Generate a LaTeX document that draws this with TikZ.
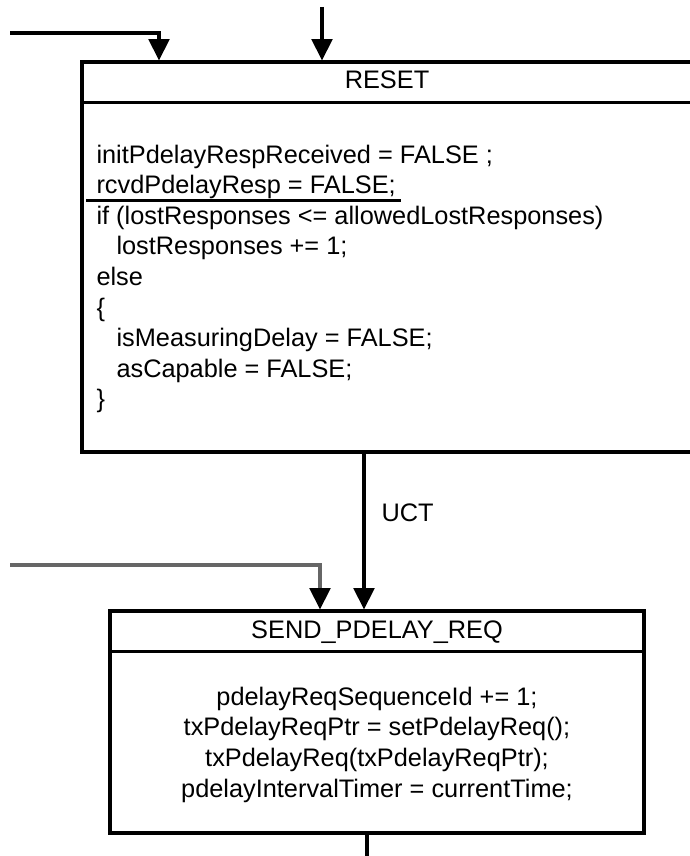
\documentclass[tikz,border=0pt]{standalone}
\usepackage{fontspec}
\setmainfont{Liberation Sans}
\usetikzlibrary{arrows.meta}
\begin{document}
\begin{tikzpicture}[x=0.75pt,y=-0.75pt,
  line width=2.3pt,
  state/.style={draw, line width=2.3pt, rectangle, inner sep=0pt},
  lbl/.style={font=\fontsize{19}{23}\selectfont, inner sep=0pt},
  code/.style={lbl, anchor=base west},
  ccode/.style={lbl, anchor=base},
  flow/.style={line width=2.3pt, -{Triangle[length=16pt,width=15.5pt,color=black]}},
]
\useasboundingbox (0,0) rectangle (689,856);

% state boxes
\node[state, minimum width=457.5pt, minimum height=292.5pt] (reset) at (387,257) {};
\node[state, minimum width=400.5pt, minimum height=166.5pt] (send) at (377,722) {};

% title separators
\draw ([yshift=-31.5pt]reset.north west) -- ([yshift=-31.5pt]reset.north east);
\draw ([yshift=-31.5pt]send.north west) -- ([yshift=-31.5pt]send.north east);

% titles
\node[ccode] (resetTitle) at (387,89) {RESET};
\node[ccode] (sendTitle) at (377,638) {SEND\_PDELAY\_REQ};

% RESET actions
\node[code] (r1) at (95,163)   {initPdelayRespReceived = FALSE ;};
\node[code] (r2) at (95,193.6) {rcvdPdelayResp = FALSE;};
\node[code] (r3) at (95,224.2) {if (lostResponses <= allowedLostResponses)};
\node[code] (r4) at (115,254.8) {lostResponses += 1;};
\node[code] (r5) at (95,285.4) {else};
\node[code] (r6) at (95,316)   {\{};
\node[code] (r7) at (115,346.6) {isMeasuringDelay = FALSE;};
\node[code] (r8) at (115,377.2) {asCapable = FALSE;};
\node[code] (r9) at (95,407.8) {\}};
\draw[line width=1.8pt] ([xshift=-6.75pt]r2.south west) -- ([xshift=3pt]r2.south east);

% SEND_PDELAY_REQ actions
\node[ccode] (s1) at (377,705)   {pdelayReqSequenceId += 1;};
\node[ccode] (s2) at (377,735.7) {txPdelayReqPtr = setPdelayReq();};
\node[ccode] (s3) at (377,766.4) {txPdelayReq(txPdelayReqPtr);};
\node[ccode] (s4) at (377,797)   {pdelayIntervalTimer = currentTime;};

% transitions
\coordinate (topIn) at (322,7);
\draw[flow] (topIn) -- (topIn |- reset.north);

\coordinate (leftIn) at (10,33);
\coordinate (leftTurn) at (159,33);
\draw[flow] (leftIn) -- (leftTurn) -- (leftTurn |- reset.north);

\coordinate (uctX) at (364,0);
\draw[flow] (uctX |- reset.south) -- (uctX |- send.north);
\node[code] (uct) at (380,521) {UCT};

\coordinate (grayIn) at (10,565);
\coordinate (grayTurn) at (320,565);
\draw[flow, draw=black!60] (grayIn) -- (grayTurn) -- (grayTurn |- send.north);

\coordinate (outX) at (367,862);
\draw (outX |- send.south) -- (outX);
\end{tikzpicture}
\end{document}
